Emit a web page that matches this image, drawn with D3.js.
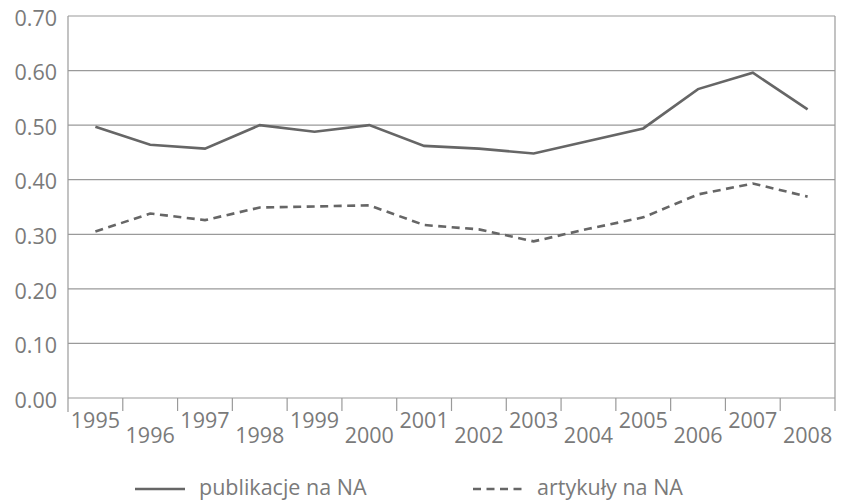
<!DOCTYPE html>
<html>

<head>
    <meta charset="utf-8" />
    <script src="https://d3js.org/d3.v7.min.js"></script>
    <style>
        body { margin: 0; background: #fff; }
        text { font-family: "Open Sans", sans-serif; fill: #7a7a7a; }
    </style>
</head>

<body>
    <script>
        // data
        const years = ['1995', '1996', '1997', '1998', '1999', '2000', '2001',
            '2002', '2003', '2004', '2005', '2006', '2007', '2008'];
        const publikacje = [0.497, 0.464, 0.457, 0.500, 0.488, 0.500, 0.462,
            0.457, 0.448, 0.471, 0.494, 0.566, 0.596, 0.529];
        const artykuly = [0.305, 0.338, 0.326, 0.349, 0.351, 0.353, 0.317,
            0.309, 0.287, 0.310, 0.331, 0.373, 0.393, 0.369];
        const yTicks = [0, 0.1, 0.2, 0.3, 0.4, 0.5, 0.6, 0.7];
        const seriesNames = ['publikacje na NA', 'artykuły na NA'];

        // dimensions
        const W = 842, H = 500;
        const margin = { top: 16, right: 7, bottom: 102, left: 68 };
        const width = W - margin.left - margin.right;
        const height = H - margin.top - margin.bottom;
        const fontSize = '21.5px';

        const svg = d3.select('body')
            .append('svg')
            .attr('width', W)
            .attr('height', H);

        const g = svg.append('g')
            .attr('transform', `translate(${margin.left},${margin.top})`);

        const x = d3.scaleBand().domain(years).range([0, width]);
        const y = d3.scaleLinear().domain([0, 0.7]).range([height, 0]);

        // grid lines
        g.selectAll('.grid')
            .data(yTicks)
            .enter()
            .append('line')
            .attr('x1', 0)
            .attr('x2', width)
            .attr('y1', d => y(d))
            .attr('y2', d => y(d))
            .attr('stroke', '#9a9a9a')
            .attr('stroke-width', 1.2);

        // y labels
        g.selectAll('.ylab')
            .data(yTicks)
            .enter()
            .append('text')
            .attr('x', -11)
            .attr('y', d => y(d) + 4)
            .attr('dominant-baseline', 'middle')
            .attr('text-anchor', 'end')
            .style('font-size', fontSize)
            .text(d => d.toFixed(2));

        // left / right frame
        g.append('line')
            .attr('x1', 0).attr('x2', 0)
            .attr('y1', 0).attr('y2', height + 14)
            .attr('stroke', '#9a9a9a').attr('stroke-width', 1.2);
        g.append('line')
            .attr('x1', width).attr('x2', width)
            .attr('y1', 0).attr('y2', height + 13)
            .attr('stroke', '#9a9a9a').attr('stroke-width', 1.2);

        // x tick marks at band edges
        g.selectAll('.xtick')
            .data(years.slice(1))
            .enter()
            .append('line')
            .attr('x1', d => x(d))
            .attr('x2', d => x(d))
            .attr('y1', height)
            .attr('y2', height + 13)
            .attr('stroke', '#9a9a9a')
            .attr('stroke-width', 1.2);

        // x labels, staggered
        g.selectAll('.xlab')
            .data(years)
            .enter()
            .append('text')
            .attr('x', d => x(d) + x.bandwidth() / 2)
            .attr('y', (d, i) => height + (i % 2 === 0 ? 30 : 45))
            .attr('text-anchor', 'middle')
            .style('font-size', fontSize)
            .text(d => d);

        // lines
        const line = d3.line()
            .x((d, i) => x(years[i]) + x.bandwidth() / 2)
            .y(d => y(d));

        g.append('path')
            .datum(publikacje)
            .attr('d', line)
            .attr('fill', 'none')
            .attr('stroke', '#666')
            .attr('stroke-width', 2.6);

        g.append('path')
            .datum(artykuly)
            .attr('d', line)
            .attr('fill', 'none')
            .attr('stroke', '#666')
            .attr('stroke-width', 2.6)
            .attr('stroke-dasharray', '8,5.5');

        // legend
        const legend = svg.append('g');
        const items = [
            { name: seriesNames[0], x: 135, dash: null },
            { name: seriesNames[1], x: 473, dash: '8,5.5' }
        ];
        items.forEach(it => {
            legend.append('line')
                .attr('x1', it.x).attr('x2', it.x + 50)
                .attr('y1', 489).attr('y2', 489)
                .attr('stroke', '#666')
                .attr('stroke-width', 2.6)
                .attr('stroke-dasharray', it.dash);
            legend.append('text')
                .attr('x', it.x + 64)
                .attr('y', 495)
                .style('font-size', fontSize)
                .text(it.name);
        });
    </script>
</body>

</html>
